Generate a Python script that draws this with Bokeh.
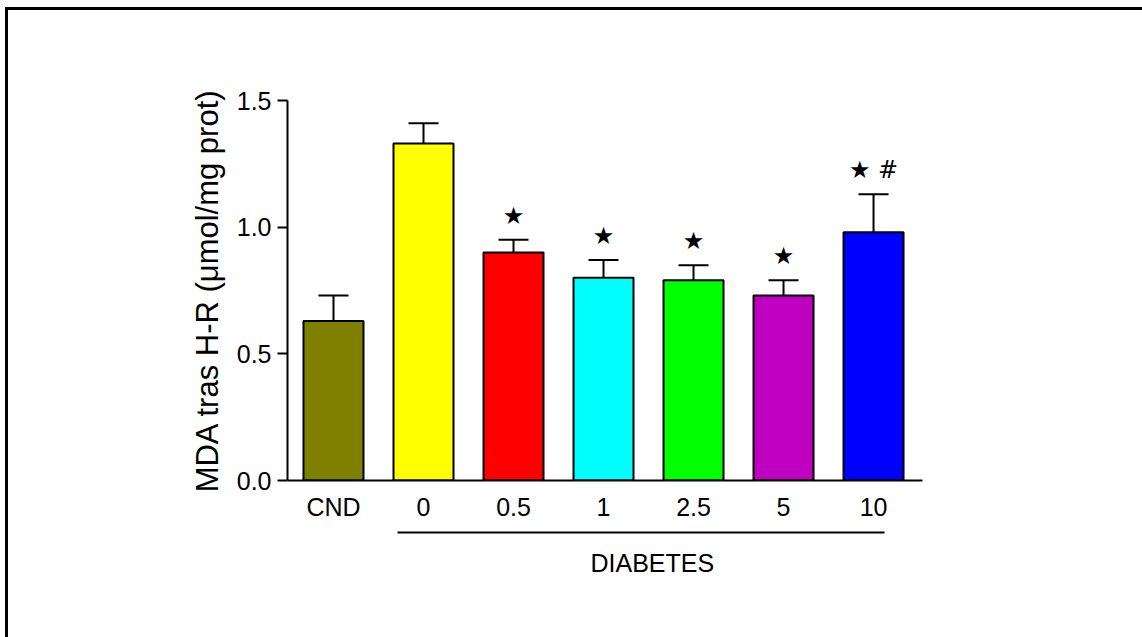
from bokeh.plotting import figure
from bokeh.models import (ColumnDataSource, FixedTicker, Whisker, TeeHead, Title,
                          LinearAxis, PrintfTickFormatter)
from bokeh.core.properties import value
from bokeh.embed import file_html
from bokeh.resources import INLINE

# ---- data ----
groups = ["CND", "0", "0.5", "1", "2.5", "5", "10"]
means = [0.63, 1.33, 0.90, 0.80, 0.79, 0.73, 0.98]
sems = [0.10, 0.08, 0.05, 0.07, 0.06, 0.06, 0.15]
signif = ["", "", "★", "★", "★", "★", "★ #"]
colors = ["#808000", "#FFFF00", "#FF0000", "#00FFFF", "#00FF00", "#C000C0", "#0000FF"]
y_ticks = [0.0, 0.5, 1.0, 1.5]
group_label = "DIABETES"
y_title = "MDA tras H-R (μmol/mg prot)"

xs = list(range(len(groups)))
src = ColumnDataSource(dict(
    x=xs, top=means, upper=[m + s for m, s in zip(means, sems)],
    color=colors, sig=signif))

FONT = "Liberation Sans"

p = figure(width=1140, height=627, x_range=(-0.511, 6.544), y_range=(0, 1.5),
           output_backend="svg", toolbar_location=None,
           min_border_left=279, min_border_right=226,
           min_border_top=90, min_border_bottom=157)
p.outline_line_color = None
p.grid.visible = False
p.background_fill_color = "white"
p.border_fill_color = "white"

p.vbar(x="x", top="top", width=0.6667, source=src, fill_color="color",
       line_color="black", line_width=2)

w = Whisker(base="x", lower="top", upper="upper", source=src,
            upper_head=TeeHead(size=30, line_width=2, line_color="black"),
            lower_head=None, line_width=2, line_color="black", level="overlay")
p.add_layout(w)

p.text(x="x", y="upper", text="sig", source=src, text_align="center",
       text_baseline="bottom", y_offset=-10, text_font=value("DejaVu Sans"),
       text_font_size="24px", text_color="black")

# y axis
ya = p.yaxis[0]
ya.ticker = FixedTicker(ticks=y_ticks)
ya.formatter = PrintfTickFormatter(format="%.1f")
ya.major_tick_out = 10
ya.major_tick_in = 0
ya.minor_tick_line_color = None
ya.axis_line_width = 2
ya.major_tick_line_width = 2
ya.major_label_text_font = FONT
ya.major_label_text_font_size = "25px"
ya.major_label_text_color = "black"
ya.major_label_standoff = 6
ya.axis_label = y_title
ya.axis_label_text_font = FONT
ya.axis_label_text_font_size = "31px"
ya.axis_label_text_font_style = "normal"
ya.axis_label_text_color = "black"
ya.axis_label_standoff = 9

# x axis
xa = p.xaxis[0]
xa.ticker = FixedTicker(ticks=xs)
xa.major_label_overrides = {i: g for i, g in zip(xs, groups)}
xa.major_tick_out = 0
xa.major_tick_in = 0
xa.major_tick_line_color = None
xa.minor_tick_line_color = None
xa.axis_line_width = 2
xa.major_label_text_font = FONT
xa.major_label_text_font_size = "25px"
xa.major_label_text_color = "black"
xa.major_label_standoff = 12
# invisible spacer label pushes the group line down
xa.axis_label = " "
xa.axis_label_text_font_size = "6px"
xa.axis_label_standoff = 0

# group underline (axis line limited by bounds)
gaxis = LinearAxis(ticker=FixedTicker(ticks=[]), bounds=(0.711, 6.122),
                   axis_line_width=2, axis_line_color="black",
                   major_tick_line_color=None, minor_tick_line_color=None,
                   major_label_text_font_size="0px")
p.add_layout(gaxis, "below")

p.add_layout(Title(text=group_label, align="left", offset=303, standoff=28,
                   text_font=FONT, text_font_size="25px", text_font_style="normal",
                   text_color="black"), "below")

html = file_html(p, INLINE)
css = ("<style>html{overflow:hidden !important;}"
       "body{margin:7px 0 0 5px !important;border-top:3px solid #000;"
       "border-left:3px solid #000;height:auto !important;overflow:hidden !important;}"
       "</style>")
html = html.replace("</head>", css + "</head>", 1)
open("out.html", "w").write(html)
